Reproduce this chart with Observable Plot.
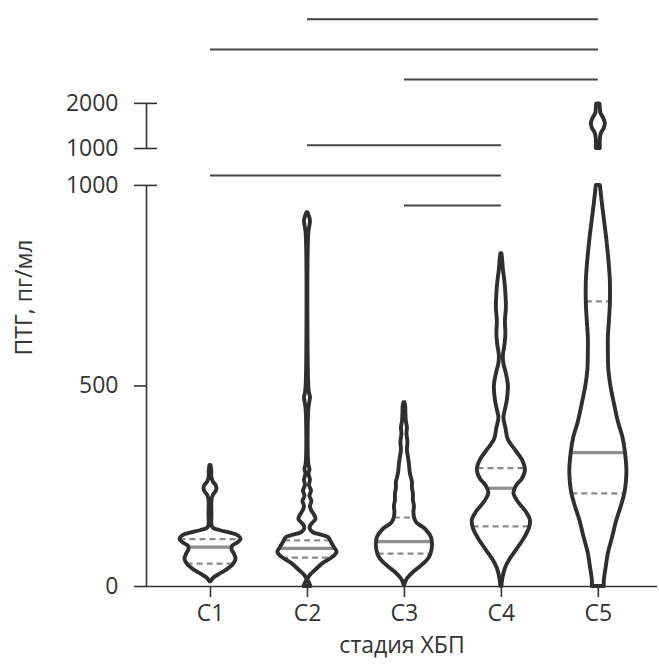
<!DOCTYPE html>
<html>
<head>
<meta charset="utf-8">
<script src="https://cdn.jsdelivr.net/npm/d3@7"></script>
<script src="https://cdn.jsdelivr.net/npm/@observablehq/plot@0.6"></script>
<style>
  body { margin: 0; background: #fff; }
  #chart svg { display: block; }
</style>
</head>
<body>
<div id="chart"></div>
<script>
// Stages of chronic kidney disease and PTH (pg/ml) distributions per stage
const stages = ["C1", "C2", "C3", "C4", "C5"];
const yTitle = "ПТГ, пг/мл";
const xTitle = "стадия ХБП";

// Violin profiles: [PTH value, relative density]
const violinC1 = [[12,0.5],[20,3],[30,9],[42,17],[55,23],[68,25.5],[80,24],[92,21.5],[100,22],[110,28],[118,30.5],[126,28],[133,20],[139,10],[145,3],[152,1.5],[180,1.5],[215,1.5],[228,3],[236,5.5],[244,6.5],[252,5.5],[260,3],[270,1.5],[290,1.2],[302,0.5]];
const violinC2 = [[0,3.5],[8,2],[18,0.5],[28,3],[40,8],[57,15.5],[72,25],[85,29.5],[97,27],[110,24],[122,21],[128,14],[134,6],[142,3],[150,3],[158,5.5],[167,8.5],[178,7],[190,4],[200,3],[212,4.5],[225,2.5],[238,4],[252,2],[265,3],[280,1.5],[292,2.5],[305,1.3],[440,1.3],[462,2.5],[472,3],[482,2],[500,1.3],[880,1.3],[900,2.5],[912,3],[922,2],[932,0.5]];
const violinC3 = [[4,0.5],[12,1.5],[22,4],[35,9],[47,15],[60,21],[72,25],[90,27.5],[107,28],[122,27],[140,22],[150,17],[157,13],[165,11],[172,10],[185,9.5],[200,10],[214,9],[230,9],[245,8],[260,8],[275,6.5],[290,5.5],[305,5],[322,4],[340,3],[360,3.5],[380,2.5],[395,3],[410,2],[430,1.5],[450,1.2],[458,0.5]];
const violinC4 = [[0,0.5],[20,1.5],[45,4],[65,8],[90,15],[120,23],[145,28],[165,29],[185,25],[210,17],[232,12.5],[250,15],[268,21],[290,24],[315,21],[340,14],[365,7],[395,4.5],[420,2.5],[440,4],[465,6],[500,7],[530,5],[555,2.5],[575,2],[600,3.5],[630,4.5],[660,4],[695,5],[730,4.5],[760,3.5],[790,2],[815,1.2],[830,0.5]];
const violinC5 = [[0,6],[15,6],[50,8],[82,10],[120,14],[165,18.5],[200,23],[232,26.5],[260,28],[290,28.5],[335,27],[372,24.5],[410,20],[456,16],[500,12.5],[539,10.5],[580,10],[621,10],[660,11],[705,12],[760,12],[800,11],[840,9.5],[875,8],[915,6],[955,4],[1000,2]];
const violinC5Upper = [[1000,2],[1200,2],[1330,3],[1450,6],[1556,7],[1680,5],[1780,2.5],[1900,2],[1990,1.5]];

// Quartiles and medians per stage
const q1 = [57, 72, 82, 150, 232];
const medians = [98, 95, 112, 245, 334];
const q3 = [118, 115, 172, 295, 711];

// Broken y axis: lower segment 0–1000, compressed upper segment 1000–2000
const yTicksLower = [0, 500, 1000];
const yTicksUpper = [1000, 2000];

// Pairwise comparisons (brackets), bottom to top within each group
const comparisons = [["C3","C4"],["C1","C4"],["C2","C4"],["C3","C5"],["C1","C5"],["C2","C5"]];

// ---- layout helpers ----
const BREAK = 1000, GAP = 92, UPPER_SCALE = 0.1125;
const disp = (v, upper) => upper ? BREAK + GAP + (v - BREAK) * UPPER_SCALE : v;
const xi = s => stages.indexOf(s) + 1;
const xMin = 0.34, xMax = 5.61, yTop = 1461;

const profiles = [
  ["C1", false, violinC1], ["C2", false, violinC2], ["C3", false, violinC3],
  ["C4", false, violinC4], ["C5", false, violinC5], ["C5", true, violinC5Upper]
];
const violinRows = profiles.flatMap(([stage, upper, pts]) =>
  pts.map(([v, d]) => ({stage, upper, v, d})));
const dMax = d3.max(violinRows, r => r.d);
const maxHalf = 0.315;
const half = d => d / dMax * maxHalf;

function densityAt(pts, v) {
  for (let i = 1; i < pts.length; i++) {
    const [v0, d0] = pts[i - 1], [v1, d1] = pts[i];
    if (v >= v0 && v <= v1) return d0 + (d1 - d0) * (v - v0) / (v1 - v0);
  }
  return 0;
}
const lowerProfiles = {C1: violinC1, C2: violinC2, C3: violinC3, C4: violinC4, C5: violinC5};
const statRows = (vals) => stages.map((s, i) => ({stage: s, v: vals[i], d: densityAt(lowerProfiles[s], vals[i])}));
const quartileRows = [...statRows(q1), ...statRows(q3)];
const medianRows = statRows(medians);

const bracketBase = {C4: 950, C5: 1264}, bracketStep = 75;
const groupCount = {};
const bracketRows = comparisons.map(([a, b]) => {
  const k = groupCount[b] = (groupCount[b] ?? -1) + 1;
  return {a, b, y: bracketBase[b] + k * bracketStep};
});

const tickRows = [
  ...yTicksLower.map(v => ({v, upper: false})),
  ...yTicksUpper.map(v => ({v, upper: true}))
];
const segRows = [
  {from: d3.min(yTicksLower), to: d3.max(yTicksLower), upper: false},
  {from: d3.min(yTicksUpper), to: d3.max(yTicksUpper), upper: true}
];
const capRows = segRows.flatMap(s => [{v: s.from, upper: s.upper}, {v: s.to, upper: s.upper}]).filter(r => r.v !== 0);

const violinOpts = {
  y: r => disp(r.v, r.upper),
  x1: r => xi(r.stage) - half(r.d),
  x2: r => xi(r.stage) + half(r.d),
  z: r => r.stage + (r.upper ? "u" : "l"),
  curve: "catmull-rom"
};
const statOpts = {
  y: r => r.v,
  x1: r => xi(r.stage) - half(r.d),
  x2: r => xi(r.stage) + half(r.d)
};

const chart = Plot.plot({
  width: 659,
  height: 664,
  marginLeft: 146,
  marginRight: 2,
  marginTop: 0,
  marginBottom: 78,
  x: {domain: [xMin, xMax]},
  y: {domain: [0, yTop], axis: null},
  style: {fontFamily: "'Open Sans', sans-serif", fontSize: "23px", color: "#333", background: "white"},
  marks: [
    // significance brackets
    Plot.ruleY(bracketRows, {y: "y", x1: r => xi(r.a), x2: r => xi(r.b), stroke: "#454545", strokeWidth: 2}),
    // violin bodies
    Plot.areaX(violinRows, {...violinOpts, fill: "white"}),
    Plot.ruleY(quartileRows, {...statOpts, stroke: "#8a8a8a", strokeWidth: 2.2, strokeDasharray: "6,4"}),
    Plot.ruleY(medianRows, {...statOpts, stroke: "#8f8f8f", strokeWidth: 3.2}),
    Plot.areaX(violinRows, {...violinOpts, fill: "none", stroke: "#2f2f2f", strokeWidth: 3.9, strokeLinejoin: "round"}),
    // x axis line
    Plot.ruleY([0], {stroke: "#333", strokeWidth: 1.6}),
    // broken y axis
    Plot.ruleX(segRows, {x: xMin, y1: s => disp(s.from, s.upper), y2: s => disp(s.to, s.upper), stroke: "#333", strokeWidth: 1.6}),
    Plot.ruleY(tickRows, {y: r => disp(r.v, r.upper), x1: xMin, x2: xMin, insetLeft: -12, stroke: "#333", strokeWidth: 1.6}),
    Plot.ruleY(capRows, {y: r => disp(r.v, r.upper), x1: xMin, x2: xMin, insetRight: -11, stroke: "#333", strokeWidth: 1.6}),
    Plot.text(tickRows, {y: r => disp(r.v, r.upper), x: xMin, text: r => String(r.v), textAnchor: "end", dx: -28, fontSize: 23, fill: "#333"}),
    Plot.axisX({ticks: stages.map(xi), tickFormat: i => stages[i - 1], tickSize: 11, tickPadding: 7, fontSize: 23, label: null, stroke: "#333", strokeWidth: 1.6}),
    // axis titles
    Plot.text([xTitle], {frameAnchor: "bottom", lineAnchor: "middle", dy: 59, fontSize: 23, fill: "#333"}),
    Plot.text([yTitle], {frameAnchor: "left", lineAnchor: "middle", rotate: -90, dx: -122, dy: 62, fontSize: 23, fill: "#333"})
  ]
});
document.getElementById("chart").appendChild(chart);
</script>
</body>
</html>
